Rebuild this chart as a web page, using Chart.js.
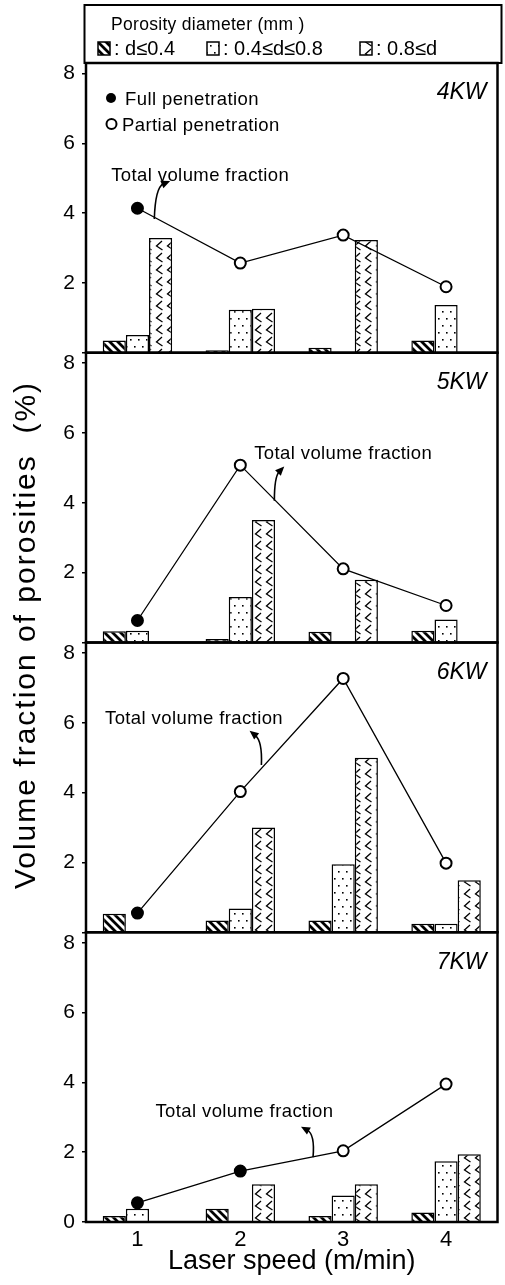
<!DOCTYPE html>
<html>
<head>
<meta charset="utf-8">
<script src="https://cdn.jsdelivr.net/npm/chart.js@4.4.1/dist/chart.umd.min.js"></script>
<style>
  html, body { margin:0; padding:0; background:#fff; }
  #wrap { width:505px; height:1285px; }
</style>
</head>
<body>
<div id="wrap"><canvas id="porosityChart" width="505" height="1285"></canvas></div>
<script>
const FONT = '"Liberation Sans", Arial, sans-serif';

const speeds = ['1','2','3','4'];
const powers = ['4KW','5KW','6KW','7KW'];
const sizeClasses = ['d≤0.4','0.4≤d≤0.8','0.8≤d'];

// volume fraction (%) of each pore size class, one row per laser power
const smallPores = [
  [0.35, 0.07, 0.14, 0.35],
  [0.32, 0.10, 0.31, 0.34],
  [0.53, 0.34, 0.34, 0.24],
  [0.17, 0.38, 0.17, 0.27]
];
const midPores = [
  [0.51, 1.23, 0, 1.37],
  [0.34, 1.30, 0, 0.66],
  [0, 0.68, 1.95, 0.24],
  [0.38, 0, 0.76, 1.74]
];
const largePores = [
  [3.29, 1.26, 3.23, 0],
  [0, 3.51, 1.80, 0],
  [0, 3.00, 5.00, 1.49],
  [0, 1.08, 1.08, 1.94]
];
const totalFraction = [
  [4.14, 2.57, 3.37, 1.89],
  [0.63, 5.08, 2.11, 1.06],
  [0.55, 4.03, 7.27, 1.98],
  [0.55, 1.46, 2.04, 3.95]
];
// true = full penetration (filled marker), false = partial
const fullPenetration = [
  [true, false, false, false],
  [true, false, false, false],
  [true, false, false, false],
  [true, true, false, false]
];
const yTicks = [0, 2, 4, 6, 8];

// "Total volume fraction" callouts: [category index, value] for text, arrow tail, bend, head
const notes = [
  { text:[0.61, 5.06], tail:[0.164, 3.83], ctrl:[0.174, 4.74], head:[0.318, 4.92] },
  { text:[2.00, 5.41], tail:[1.331, 4.06], ctrl:[1.331, 4.75], head:[1.427, 5.04] },
  { text:[0.55, 6.11], tail:[1.205, 4.79], ctrl:[1.215, 5.48], head:[1.090, 5.77] },
  { text:[1.04, 3.16], tail:[1.707, 1.86], ctrl:[1.726, 2.51], head:[1.590, 2.73] }
];

const ctx = document.getElementById('porosityChart').getContext('2d');

// hatch fills
function tile(w, h, draw) {
  const c = document.createElement('canvas');
  c.width = w; c.height = h;
  const g = c.getContext('2d');
  g.fillStyle = '#fff'; g.fillRect(0, 0, w, h);
  g.strokeStyle = '#000'; g.fillStyle = '#000';
  draw(g);
  return ctx.createPattern(c, 'repeat');
}
const stripes = tile(8, 8, g => {
  g.lineWidth = 2.8;
  g.beginPath();
  [-8, 0, 8].forEach(k => { g.moveTo(k - 1, -1); g.lineTo(k + 9, 9); });
  g.stroke();
});
const dots = tile(8, 14, g => {
  g.fillRect(2, 3, 1.6, 1.6);
  g.fillRect(6, 10, 1.6, 1.6);
});
const chevrons = tile(11, 12, g => {
  g.lineWidth = 1.3;
  g.beginPath();
  g.moveTo(8, 1); g.lineTo(2.5, 6); g.lineTo(8.5, 10);
  g.stroke();
});
const fills = [stripes, dots, chevrons];

const panelIds = ['y4', 'y5', 'y6', 'y7'];
const datasets = [];
powers.forEach((p, i) => {
  datasets.push({
    type: 'line', label: 'Total ' + p, data: totalFraction[i], yAxisID: panelIds[i],
    borderColor: '#000', borderWidth: 1.3, tension: 0, order: 1,
    pointRadius: 5.5, pointBorderWidth: 2, pointBorderColor: '#000',
    pointBackgroundColor: fullPenetration[i].map(f => f ? '#000' : '#fff')
  });
  [smallPores, midPores, largePores].forEach((arr, k) => {
    datasets.push({
      type: 'bar', label: sizeClasses[k] + ' ' + p, data: arr[i], yAxisID: panelIds[i],
      stack: 'c' + k, order: 2,
      backgroundColor: fills[k], borderColor: '#000', borderWidth: 1.5,
      categoryPercentage: 0.675, barPercentage: 1
    });
  });
});

const scales = {
  x: {
    type: 'category', labels: speeds, offset: true,
    grid: { display: false }, border: { display: false },
    ticks: { color: '#000', padding: -3, font: { family: FONT, size: 22 } },
    title: { display: true, text: 'Laser speed (m/min)', color: '#000',
             font: { family: FONT, size: 27 }, padding: { top: 0, bottom: 7 } },
    afterFit: s => { s.height = 63; }
  }
};
// stacked left axes: the last one listed ends up on top
[...panelIds].reverse().forEach(id => {
  scales[id] = {
    type: 'linear', position: 'left', stack: 'panels', stackWeight: 1,
    min: 0, max: 8.3, stacked: false,
    afterBuildTicks: s => { s.ticks = yTicks.map(v => ({ value: v })); },
    afterFit: s => { s.width = 86; },
    grid: { drawOnChartArea: false, tickLength: 4, color: '#000', lineWidth: 1.5 },
    border: { display: false },
    ticks: { color: '#000', padding: 7, font: { family: FONT, size: 21 },
             callback: v => (v === 0 && id !== 'y7') ? '' : v }
  };
});

function arrowNote(c, chart, yId, n) {
  const x = chart.scales.x, y = chart.scales[yId];
  const px = p => [x.getPixelForValue(p[0]), y.getPixelForValue(p[1])];
  const t = px(n.text), a = px(n.tail), b = px(n.ctrl), h = px(n.head);
  c.font = '18.5px ' + FONT;
  c.letterSpacing = '0.4px';
  c.textAlign = 'center'; c.textBaseline = 'middle';
  c.fillText('Total volume fraction', t[0], t[1]);
  const ang = Math.atan2(h[1] - b[1], h[0] - b[0]);
  const len = 9;
  const e = [h[0] - Math.cos(ang) * len * 0.8, h[1] - Math.sin(ang) * len * 0.8];
  c.lineWidth = 1.6;
  c.beginPath(); c.moveTo(a[0], a[1]); c.quadraticCurveTo(b[0], b[1], e[0], e[1]); c.stroke();
  c.beginPath();
  c.moveTo(h[0], h[1]);
  c.lineTo(h[0] - Math.cos(ang) * len + Math.sin(ang) * 4, h[1] - Math.sin(ang) * len - Math.cos(ang) * 4);
  c.lineTo(h[0] - Math.cos(ang) * len - Math.sin(ang) * 4, h[1] - Math.sin(ang) * len + Math.cos(ang) * 4);
  c.closePath(); c.fill();
}

const decor = {
  id: 'decor',
  afterDraw(chart) {
    const c = chart.ctx, area = chart.chartArea;
    c.save();
    c.strokeStyle = '#000'; c.fillStyle = '#000';

    // panel frames, power labels and callouts
    panelIds.forEach((id, i) => {
      const s = chart.scales[id];
      c.lineWidth = 2.5;
      c.strokeRect(area.left, s.top, area.right - area.left, s.bottom - s.top);
      c.font = 'italic 23px ' + FONT;
      c.letterSpacing = '0px';
      c.textAlign = 'right'; c.textBaseline = 'middle';
      c.fillText(powers[i], area.right - 11, s.top + 30);
      arrowNote(c, chart, id, notes[i]);
    });

    // marker key in the top panel
    const top = chart.scales.y4.top;
    c.font = '18.5px ' + FONT; c.letterSpacing = '0.4px';
    c.textAlign = 'left'; c.textBaseline = 'middle';
    c.beginPath(); c.arc(111, top + 35, 5, 0, Math.PI * 2); c.fill();
    c.fillText('Full penetration', 125, top + 37);
    c.lineWidth = 2;
    c.fillStyle = '#fff';
    c.beginPath(); c.arc(111.5, top + 61, 5, 0, Math.PI * 2); c.fill(); c.stroke();
    c.fillStyle = '#000';
    c.fillText('Partial penetration', 122, top + 63);

    // pore size key box
    c.lineWidth = 2;
    c.strokeRect(84.5, 5, 417, top - 5);
    c.font = '17.5px ' + FONT; c.letterSpacing = '0.3px';
    c.fillText('Porosity diameter (mm )', 111, 25);
    const keyX = [98, 207, 360];
    c.font = '20px ' + FONT; c.letterSpacing = '0px';
    sizeClasses.forEach((lbl, k) => {
      c.fillStyle = fills[k];
      c.fillRect(keyX[k], 42, 12, 13);
      c.lineWidth = 1.5;
      c.strokeRect(keyX[k], 42, 12, 13);
      c.fillStyle = '#000';
      c.fillText(': ' + lbl, keyX[k] + 16, 49.5);
    });

    // shared y title
    c.translate(27, 635);
    c.rotate(-Math.PI / 2);
    c.font = '30px ' + FONT; c.letterSpacing = '2px';
    c.textAlign = 'center';
    c.fillText('Volume fraction of porosities  (%)', 0, 0);
    c.restore();
  }
};

new Chart(ctx, {
  type: 'bar',
  data: { labels: speeds, datasets },
  options: {
    responsive: false,
    animation: false,
    layout: { padding: { top: 63, right: 4, left: 0, bottom: 0 } },
    plugins: { legend: { display: false }, tooltip: { enabled: false } },
    scales
  },
  plugins: [decor]
});
</script>
</body>
</html>
